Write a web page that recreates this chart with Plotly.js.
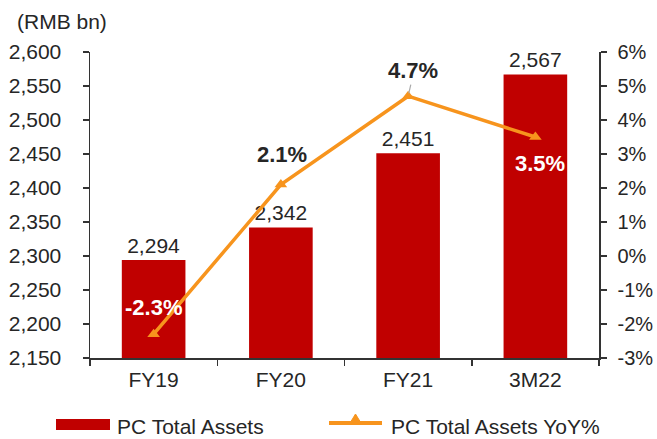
<!DOCTYPE html>
<html>
<head>
<meta charset="utf-8">
<script src="https://cdn.plot.ly/plotly-3.0.1.min.js"></script>
<style>html,body{margin:0;padding:0;background:#fff}#chart{width:657px;height:439px}</style>
</head>
<body>
<div id="chart"></div>
<script>
const categories = ["FY19", "FY20", "FY21", "3M22"];
const totalAssets = [2294, 2342, 2451, 2567];
const yoyPct = [-2.3, 2.1, 4.7, 3.5];
const assetLabels = ["2,294", "2,342", "2,451", "2,567"];
const yoyLabels = ["-2.3%", "2.1%", "4.7%", "3.5%"];
const leftTicks = [2150, 2200, 2250, 2300, 2350, 2400, 2450, 2500, 2550, 2600];
const leftTickText = ["2,150", "2,200", "2,250", "2,300", "2,350", "2,400", "2,450", "2,500", "2,550", "2,600"];
const rightTicks = [-3, -2, -1, 0, 1, 2, 3, 4, 5, 6];
const rightTickText = ["-3%", "-2%", "-1%", "0%", "1%", "2%", "3%", "4%", "5%", "6%"];
const seriesNames = ["PC Total Assets", "PC Total Assets YoY%"];

const FONT = "Liberation Sans, Arial, sans-serif";
const RED = "#C00000";
const ORANGE = "#F7941D";
const INK = "#262626";

const W = 657, H = 439, ML = 90, MR = 58, MT = 52, MB = 81;
const PW = W - ML - MR, PH = H - MT - MB;
const px = x => (x - ML) / PW;
const py = y => (H - MB - y) / PH;

const bars = {
  type: "bar", name: seriesNames[0], x: categories, y: totalAssets,
  marker: {color: RED}, text: assetLabels, textposition: "outside",
  textfont: {family: FONT, size: 21, color: INK}, cliponaxis: false,
  hoverinfo: "skip", showlegend: false
};
const line = {
  type: "scatter", mode: "lines+markers", name: seriesNames[1],
  x: categories, y: yoyPct, yaxis: "y2",
  line: {color: ORANGE, width: 3.5}, marker: {symbol: "triangle-up", size: 11, color: ORANGE},
  cliponaxis: false, hoverinfo: "skip", showlegend: false
};

// label placement per point: [xshift, yshift, color]
const place = [[0, 27, "#fff"], [1, 30, INK], [5, 26, INK], [5, -26, "#fff"]];
const annotations = categories.map((c, i) => ({
  x: c, y: yoyPct[i], xref: "x", yref: "y2", text: "<b>" + yoyLabels[i] + "</b>",
  showarrow: false, xshift: place[i][0], yshift: place[i][1],
  font: {family: FONT, size: 22, color: place[i][2]}
}));
// leader line for 4.7%
annotations.push({
  x: categories[2], y: yoyPct[2], xref: "x", yref: "y2", ax: 3, ay: -13,
  showarrow: true, arrowhead: 0, arrowwidth: 1.2, arrowcolor: "#aaaaaa", standoff: 3,
  startstandoff: 0, text: ""
});
annotations.push({
  x: px(61.5), y: py(22), xref: "paper", yref: "paper", xanchor: "center", yanchor: "middle",
  text: "(RMB bn)", showarrow: false, font: {family: FONT, size: 21, color: INK}
});
// legend texts
annotations.push({
  x: px(115), y: py(426), xref: "paper", yref: "paper", xanchor: "left", yanchor: "middle",
  text: seriesNames[0], showarrow: false, font: {family: FONT, size: 21, color: INK}
});
annotations.push({
  x: px(389), y: py(426), xref: "paper", yref: "paper", xanchor: "left", yanchor: "middle",
  text: seriesNames[1], showarrow: false, font: {family: FONT, size: 21, color: INK}
});

const shapes = [
  {type: "rect", xref: "paper", yref: "paper", x0: px(56), x1: px(110), y0: py(430), y1: py(419),
   fillcolor: RED, line: {width: 0}},
  {type: "line", xref: "paper", yref: "paper", x0: px(329), x1: px(382), y0: py(423), y1: py(423),
   line: {color: ORANGE, width: 4}},
  {type: "path", xref: "paper", yref: "paper",
   path: `M${px(350)},${py(423)} L${px(361)},${py(423)} L${px(355.5)},${py(414)} Z`,
   fillcolor: ORANGE, line: {color: ORANGE, width: 1}}
];

const axisCommon = {
  showline: true, linecolor: "#333", linewidth: 1.5, ticks: "outside", ticklen: 6,
  tickcolor: "#333", tickwidth: 1.5, showgrid: false, zeroline: false,
  tickfont: {family: FONT, size: 21, color: INK}
};

const layout = {
  width: W, height: H,
  margin: {l: ML, r: MR, t: MT, b: MB},
  paper_bgcolor: "#fff", plot_bgcolor: "#fff",
  font: {family: FONT, size: 21, color: INK},
  bargap: 0.5, showlegend: false,
  xaxis: Object.assign({}, axisCommon, {type: "category", tickson: "boundaries", ticklabelstandoff: 2}),
  yaxis: Object.assign({}, axisCommon, {range: [2150, 2600], tickvals: leftTicks, ticktext: leftTickText,
    ticklabelstandoff: 17}),
  yaxis2: Object.assign({}, axisCommon, {range: [-3, 6], overlaying: "y", side: "right",
    tickvals: rightTicks, ticktext: rightTickText, ticklabelstandoff: 7,
    tickfont: {family: FONT, size: 20, color: INK}}),
  annotations: annotations,
  shapes: shapes
};

Plotly.newPlot("chart", [bars, line], layout, {staticPlot: true, displayModeBar: false});
</script>
</body>
</html>
